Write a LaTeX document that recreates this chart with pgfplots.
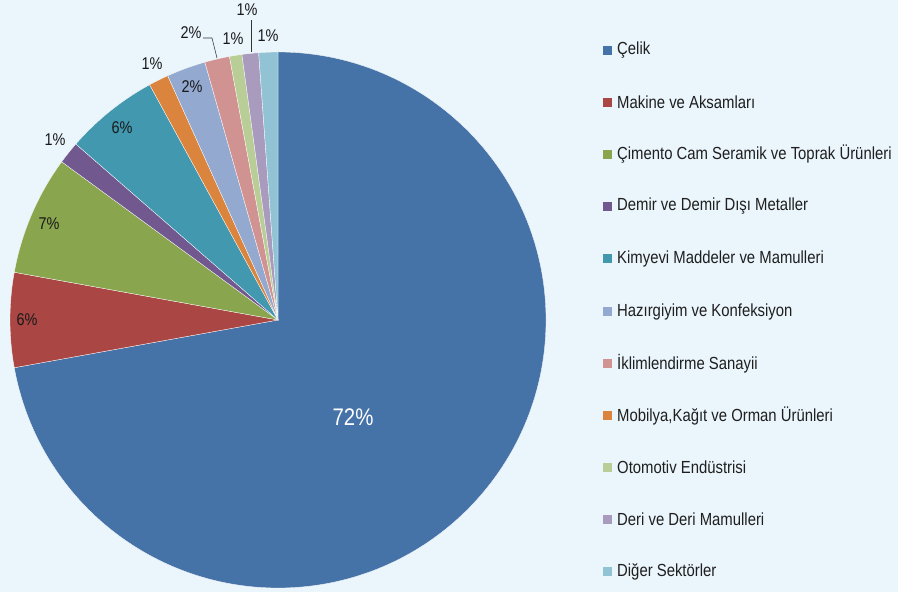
\documentclass[border=0pt]{standalone}
\usepackage{fontspec}
\setmainfont{Liberation Sans}[FakeStretch=0.85]
\usepackage{pgfplots}
\usepackage{pgfplotstable}
\pgfplotsset{compat=1.18}
\definecolor{bg}{RGB}{234,245,252}
\definecolor{c1}{HTML}{4572A7}
\definecolor{c2}{HTML}{AA4643}
\definecolor{c3}{HTML}{89A54E}
\definecolor{c4}{HTML}{71588F}
\definecolor{c5}{HTML}{4198AF}
\definecolor{c6}{HTML}{DB843D}
\definecolor{c7}{HTML}{93A9CF}
\definecolor{c8}{HTML}{D19392}
\definecolor{c9}{HTML}{B9CD96}
\definecolor{c10}{HTML}{A99BBD}
\definecolor{c11}{HTML}{92C3D4}
% slices in drawing order (clockwise from the top)
\pgfplotstableread[col sep=semicolon]{
name;value;color
Çelik;72.15;c1
Makine ve Aksamları;5.7;c2
Çimento Cam Seramik ve Toprak Ürünleri;7.2;c3
Demir ve Demir Dışı Metaller;1.35;c4
Kimyevi Maddeler ve Mamulleri;5.65;c5
Mobilya,Kağıt ve Orman Ürünleri;1.2;c6
Hazırgiyim ve Konfeksiyon;2.35;c7
İklimlendirme Sanayii;1.5;c8
Otomotiv Endüstrisi;0.75;c9
Deri ve Deri Mamulleri;1.0;c10
Diğer Sektörler;1.15;c11
}\data
\begin{document}
\begin{tikzpicture}
\begin{axis}[hide axis, scale only axis, x=1pt, y=1pt,
  xmin=0, xmax=898, ymin=0, ymax=592, clip=false]
\fill[bg] (axis cs:0,0) rectangle (axis cs:898,592);
\def\cum{0}
\pgfplotsforeachungrouped \i in {0,...,10}{%
  \pgfplotstablegetelem{\i}{value}\of\data \let\v\pgfplotsretval
  \pgfplotstablegetelem{\i}{color}\of\data \let\c\pgfplotsretval
  \pgfmathsetmacro\aS{90-3.6*\cum}%
  \pgfmathsetmacro\cumn{\cum+\v}%
  \global\let\cum\cumn
  \pgfmathsetmacro\aE{90-3.6*\cum}%
  \edef\tmp{\noexpand\fill[\c, draw=white, line width=0.3pt] (axis cs:278,272) -- ++(\aS:268pt) arc[start angle=\aS, end angle=\aE, radius=268pt] -- cycle;}%
  \tmp
}
% data labels
\node[white, font=\fontsize{24}{26}\selectfont] at (axis cs:353,175) {72\%};
\begin{scope}[every node/.style={font=\fontsize{17}{19}\selectfont, text=black!90}]
\node at (axis cs:27,272) {6\%};
\node at (axis cs:49,368) {7\%};
\node at (axis cs:55,452) {1\%};
\node at (axis cs:122,464) {6\%};
\node at (axis cs:152,528) {1\%};
\node at (axis cs:192,505) {2\%};
\node at (axis cs:191,559) {2\%};
\node at (axis cs:233,553) {1\%};
\node at (axis cs:247,582) {1\%};
\node at (axis cs:268,556) {1\%};
\end{scope}
\draw[black!80, line width=0.6pt] (axis cs:203,554) -- (axis cs:212,554) -- (axis cs:217,534);
\draw[black!80, line width=0.6pt] (axis cs:251,572) -- (axis cs:251,540);
% legend (order as in the reference)
\begin{scope}[every node/.style={font=\fontsize{17.5}{19}\selectfont, text=black!88, anchor=west, inner sep=0pt}]
\fill[c1] (axis cs:603,537) rectangle (axis cs:612,546); \node at (axis cs:617,541.5) {Çelik};
\fill[c2] (axis cs:603,485) rectangle (axis cs:612,494); \node at (axis cs:617,489.5) {Makine ve Aksamları};
\fill[c3] (axis cs:603,433) rectangle (axis cs:612,442); \node at (axis cs:617,437.5) {Çimento Cam Seramik ve Toprak Ürünleri};
\fill[c4] (axis cs:603,381) rectangle (axis cs:612,390); \node at (axis cs:617,385.5) {Demir ve Demir Dışı Metaller};
\fill[c5] (axis cs:603,329) rectangle (axis cs:612,338); \node at (axis cs:617,333.5) {Kimyevi Maddeler ve Mamulleri};
\fill[c7] (axis cs:603,276) rectangle (axis cs:612,285); \node at (axis cs:617,280.5) {Hazırgiyim ve Konfeksiyon};
\fill[c8] (axis cs:603,224) rectangle (axis cs:612,233); \node at (axis cs:617,228.5) {İklimlendirme Sanayii};
\fill[c6] (axis cs:603,172) rectangle (axis cs:612,181); \node at (axis cs:617,176.5) {Mobilya,Kağıt ve Orman Ürünleri};
\fill[c9] (axis cs:603,120) rectangle (axis cs:612,129); \node at (axis cs:617,124.5) {Otomotiv Endüstrisi};
\fill[c10] (axis cs:603,68) rectangle (axis cs:612,77); \node at (axis cs:617,72.5) {Deri ve Deri Mamulleri};
\fill[c11] (axis cs:603,16) rectangle (axis cs:612,25); \node at (axis cs:617,20.5) {Diğer Sektörler};
\end{scope}
\end{axis}
\end{tikzpicture}
\end{document}
